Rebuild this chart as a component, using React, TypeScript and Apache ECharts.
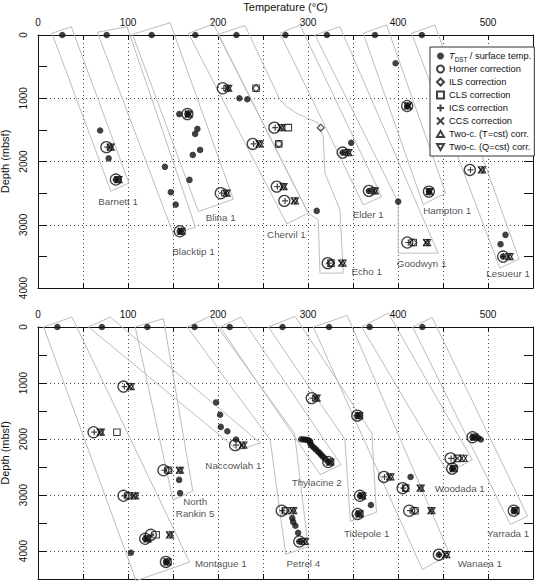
import React, { useEffect, useRef } from 'react';
import * as echarts from 'echarts';

const FONT = '"Liberation Sans", Arial, Helvetica, sans-serif';
const INK = '#111';

const TDST_NAME = 'TDST / surface temp.';
const LEGEND_NAMES = [
  TDST_NAME,
  'Horner correction',
  'ILS correction',
  'CLS correction',
  'ICS correction',
  'CCS correction',
  'Two-c. (T=cst) corr.',
  'Two-c. (Q=cst) corr.',
];

// ---------------- TOP PANEL ----------------
const topSurface = [27, 76.3, 126.3, 174.8, 220.5, 275, 321, 374.4, 426.5];
const topTdst = [
  [69, 1510], [78.5, 1950], [86.5, 2285],
  [141, 2084], [147.6, 2485], [153, 2681], [157.5, 3103],
  [157, 1250], [166, 1250], [177.1, 1485], [174.6, 1564], [180.1, 1817], [172, 1896], [168.3, 2291],
  [223.8, 1000], [232.6, 1016],
  [309.7, 2781],
  [348, 1705], [338.5, 1859], [367.7, 2465],
  [400.2, 2634],
  [397.3, 447], [410.2, 1122], [434.3, 2476],
  [519.4, 3160], [513.9, 3307], [516.8, 3503],
];
const topHorner = [
  [76, 1773], [86.5, 2285], [157.5, 3103], [166, 1250], [203.1, 2501], [205.3, 842],
  [262.6, 1465], [238.6, 1722], [265.3, 2397], [273.7, 2623], [321.9, 3607], [338.5, 1859],
  [367.7, 2465], [410.3, 3281], [410.2, 1122], [434.3, 2476], [479.8, 2133], [516.8, 3503],
];
const topIcs = [
  [77, 1773], [87, 2285], [158, 3103], [166.5, 1250], [204, 2501], [206.5, 842],
  [263.5, 1465], [239.5, 1722], [266, 2397], [274.5, 2623], [323, 3607], [339, 1859],
  [368, 2465], [411.5, 3281], [410.5, 1122], [434.5, 2476], [480.5, 2133], [517, 3503],
];
const topCcs = [
  [80.5, 1773], [89, 2285], [159, 3103], [167, 1250], [208.5, 2501], [210.9, 842],
  [270, 1465], [245.5, 1722], [272.5, 2397], [284.5, 2623], [337, 3607], [344.5, 1859],
  [373.5, 2465], [431.5, 3281], [411, 1122], [435, 2476], [492.5, 2133], [523, 3503],
];
const topTcT = [
  [81, 1773], [89.5, 2285], [159.5, 3103], [167.5, 1250], [209.8, 2501], [211.5, 842],
  [270.8, 1465], [246.5, 1722], [273, 2397], [285.6, 2623], [338.5, 3607], [345, 1859],
  [374.4, 2465], [432.4, 3281], [411, 1122], [435, 2476], [493.5, 2133], [524.2, 3503],
];
const topTcQ = [
  [81, 1773], [89.5, 2285], [159.5, 3103], [167.5, 1250], [209.8, 2501], [211.5, 842],
  [270.8, 1465], [246.5, 1722], [273, 2397], [285.6, 2623], [338.5, 3607], [345, 1859],
  [374.4, 2465], [432.4, 3281], [411, 1122], [435, 2476], [493.5, 2133], [524.2, 3503],
];
const topCls = [[242.3, 842], [278.1, 1465], [267.5, 1722], [325.5, 3607], [416.9, 3281]];
const topIls = [[242.3, 842], [314.1, 1465], [267.5, 1722], [325.5, 3607], [416.9, 3281]];
const topLabels = [
  ['Barnett 1', 89, 2634], ['Blacktip 1', 172.7, 3424], ['Blina 1', 203, 2886],
  ['Chervil 1', 276, 3149], ['Echo 1', 365.2, 3739], ['Elder 1', 366.9, 2833],
  ['Goodwyn 1', 426.2, 3607], ['Hampton 1', 454.6, 2776], ['Lesueur 1', 522.3, 3776],
];
const topBoxes = [
  [[15.5, -27], [37, -131], [101, 2340], [81, 2470]],
  [[66, -43], [99, -131], [175, 3040], [150.5, 3150]],
  [[105, -10], [146.8, -194], [217.1, 2596], [178.2, 2792]],
  [[167.1, -27], [194.9, -174], [300.3, 2817], [276.4, 2986]],
  [[200, -10], [230, -150], [268.9, 1027], [276.4, 1132], [287.5, 1238], [302.2, 1332], [311.4, 1395],
    [317, 1607], [317.8, 1870], [318.9, 2185], [335.5, 2765], [339.2, 3765], [313.3, 3765],
    [311.4, 2923], [300.3, 2817]],
  [[268.9, -27], [291.1, -158], [381.8, 2555], [361.4, 2686]],
  [[307.8, 0], [335.5, -131], [444.6, 3449], [400.2, 3449], [400.2, 2640]],
  [[361.4, -27], [387.3, -158], [453, 2500], [428, 2680]],
  [[415.1, -27], [441, -158], [534.5, 3544], [513.1, 3686]],
];

// ---------------- BOTTOM PANEL ----------------
const botSurface = [21.5, 71, 121.5, 174, 213, 271.7, 323.4, 368.5, 427];
const botTdst = [
  [156.8, 2730], [157.9, 2966],
  [119.1, 3782], [103.2, 4030], [142.1, 4195],
  [197.9, 1347], [202.3, 1566], [203.1, 1784], [210.4, 1862], [220.1, 2009],
  [282.5, 3410], [283.5, 3480], [286, 3550], [289, 3676], [290.3, 3830],
  [292.5, 2005], [295, 2008], [297.5, 2012], [300, 2020], [302, 2035], [302.5, 2060], [303, 2100],
  [305, 2130], [307, 2160], [309, 2190], [311.5, 2230], [313.5, 2260], [315, 2290], [317, 2320],
  [319.5, 2360], [322.5, 2411],
  [354.7, 1583], [357.7, 3014], [369.9, 3179], [355.2, 3339],
  [414, 2677], [445.4, 4066],
  [460.2, 2528],
  [482.8, 1968], [489, 1979], [492, 2009], [528.6, 3280],
];
const botHorner = [
  [95, 1064], [61.7, 1879], [139.4, 2558], [95, 3014], [125.4, 3711], [119.1, 3782], [142.1, 4195],
  [219, 2110], [270.8, 3280], [290.3, 3830], [304.1, 1270], [322.5, 2411], [354.7, 1583],
  [357.7, 3014], [355.2, 3339], [384.4, 2677], [405.1, 2878], [412.4, 3280], [445.4, 4066],
  [458.4, 2346], [460.2, 2528], [482.8, 1968], [528.6, 3280],
];
const botIcs = [
  [96, 1064], [62.5, 1879], [140.5, 2558], [96, 3014], [126, 3711], [119.5, 3782], [142.5, 4195],
  [220, 2110], [271.5, 3280], [290.5, 3830], [305, 1270], [323, 2411], [355, 1583],
  [358, 3014], [355.5, 3339], [385, 2677], [406, 2878], [413.5, 3280], [446, 4066],
  [459, 2346], [460.5, 2528], [483, 1968], [529, 3280],
];
const botCcs = [
  [102, 1064], [69.1, 1879], [157, 2558], [107, 3014], [146, 3711], [121, 3782], [143.5, 4195],
  [227, 2110], [283, 3280], [295, 3830], [309, 1270], [324.5, 2411], [356.5, 1583],
  [360, 3014], [357, 3339], [390.5, 2677], [424.5, 2878], [436.5, 3280], [452.5, 4066],
  [466, 2346], [461.5, 2528], [484.5, 1968], [530, 3280],
];
const botTcT = [
  [103.2, 1064], [70, 1879], [157.9, 2558], [108, 3014], [146.8, 3711], [122, 3782], [144, 4195],
  [228.2, 2110], [283.7, 3280], [296.6, 3830], [309.7, 1270], [325, 2411], [357, 1583],
  [360.5, 3014], [357.5, 3339], [391.8, 2677], [425.4, 2878], [437.3, 3280], [453.9, 4066],
  [473, 2346], [462, 2528], [485, 1968], [530.5, 3280],
];
const botTcQ = [
  [103.2, 1064], [70, 1879], [157.9, 2558], [108, 3014], [146.8, 3711], [122, 3782], [144, 4195],
  [228.2, 2110], [283.7, 3280], [296.6, 3830], [309.7, 1270], [325, 2411], [357, 1583],
  [360.5, 3014], [357.5, 3339], [391.8, 2677], [425.4, 2878], [437.3, 3280], [453.9, 4066],
  [473, 2346], [462, 2528], [485, 1968], [530.5, 3280],
];
const botCls = [[87.7, 1879], [145, 2558], [100.6, 3014], [131.3, 3711], [275, 3280], [408.5, 2878], [418.8, 3280], [466, 2346]];
const botIls = [[145, 2558], [100.6, 3014], [275, 3280], [408.5, 2878], [418.8, 3280]];
const botLabels = [
  ['Naccowlah 1', 217.1, 2482], ['North\nRankin 5', 174.6, 3232], ['Montague 1', 203.1, 4225],
  ['Thylacine 2', 309.7, 2777], ['Tidepole 1', 365.2, 3693], ['Woodada 1', 468.7, 2883],
  ['Yarrada 1', 522.3, 3693], ['Petrel 4', 294.8, 4225], ['Wanaea 1', 490.9, 4225],
];
const botBoxes = [
  [[6.2, 0], [37.7, -177], [168.4, 4200], [109, 4530]],
  [[56.2, 0], [80.2, -177], [247, 2070], [222, 2200]],
  [[108, 0], [139.4, -149], [172, 2930], [150, 3090]],
  [[165.8, 0], [190.8, -190], [285, 1900], [300.2, 3923], [275.2, 4059], [258, 2015]],
  [[202.3, 0], [225.3, -178], [336.7, 2459], [313.6, 2637]],
  [[256, 0], [285.6, -190], [371, 1900], [376, 3310], [347, 3470], [341, 2010]],
  [[305.9, 0], [343.6, -207], [457.6, 4065], [427, 4330]],
  [[359.6, 0], [389.1, -248], [482.5, 2370], [455.7, 2607]],
  [[416.2, 0], [438, -170], [544, 3378], [524.8, 3526]],
];

const X_MAX = 550;
const TOP_DEPTH_MAX = 4000;
const BOT_DEPTH_MAX = 4500;

const PLUS = 'path://M5,0L5,10M0,5L10,5';
const CROSS = 'path://M0,0L10,10M10,0L0,10';
const TRI_UP = 'path://M5,0L10,8.66L0,8.66Z';
const TRI_DOWN = 'path://M0,0L10,0L5,8.66Z';

function xAxes(gridIndex: number, withName: boolean) {
  const common = {
    type: 'value', gridIndex, min: 0, max: X_MAX, interval: 50,
    axisLine: { show: true, onZero: false, lineStyle: { color: INK, width: 1 } },
    axisTick: { show: true, inside: true, length: 5, lineStyle: { color: INK, width: 1 } },
  };
  return [
    {
      ...common, position: 'top',
      name: withName ? 'Temperature (°C)' : '',
      nameLocation: 'middle', nameGap: 23,
      nameTextStyle: { fontFamily: FONT, fontSize: 11, color: INK },
      axisLabel: {
        show: true, margin: 8, fontFamily: FONT, fontSize: 10, color: INK,
        formatter: (v: number) => (v % 100 === 0 && v <= 500 ? String(v) : ''),
      },
      splitLine: { show: true, lineStyle: { color: '#444', type: [1, 3], width: 1 } },
    },
    {
      ...common, position: 'bottom',
      axisLabel: { show: false },
      splitLine: { show: false },
    },
  ];
}

function yAxes(gridIndex: number, max: number) {
  const common = { type: 'value', gridIndex, min: 0, max, inverse: true };
  return [
    {
      ...common, position: 'left', interval: 500,
      name: 'Depth (mbsf)', nameLocation: 'middle', nameRotate: 90, nameGap: 24,
      nameTextStyle: { fontFamily: FONT, fontSize: 11, color: INK },
      axisLine: { show: true, onZero: false, lineStyle: { color: INK, width: 1 } },
      axisTick: { show: true, inside: true, length: 9, lineStyle: { color: INK, width: 1 } },
      axisLabel: {
        show: true, rotate: 90, margin: 10, fontFamily: FONT, fontSize: 10, color: INK,
        formatter: (v: number) => (v % 1000 === 0 && v <= 4000 ? String(v) : ''),
      },
      splitLine: { show: false },
    },
    {
      ...common, position: 'right', interval: 500,
      axisLine: { show: true, onZero: false, lineStyle: { color: INK, width: 1 } },
      axisTick: { show: true, inside: true, length: 9, lineStyle: { color: INK, width: 1 } },
      axisLabel: { show: false },
      splitLine: { show: false },
    },
    {
      ...common, position: 'left', interval: 1000,
      axisLine: { show: false }, axisTick: { show: false }, axisLabel: { show: false },
      splitLine: { show: true, lineStyle: { color: '#444', type: [1, 3], width: 1 } },
    },
  ];
}

function panelSeries(
  xi: number, yi: number,
  surface: number[], tdst: number[][], horner: number[][], ils: number[][], cls: number[][],
  ics: number[][], ccs: number[][], tct: number[][], tcq: number[][],
  boxes: number[][][], labels: (string | number)[][],
) {
  const out: any[] = [];
  boxes.forEach((b, i) => {
    out.push({
      type: 'line', name: 'box' + xi + '_' + i, xAxisIndex: xi, yAxisIndex: yi,
      data: [...b, b[0]], symbol: 'none', clip: false, silent: true, z: 1,
      lineStyle: { color: '#bdbdbd', width: 1 },
    });
  });
  const open = { color: 'rgba(0,0,0,0)', borderColor: INK, borderWidth: 1.1 };
  const stroke = { color: INK, borderColor: INK, borderWidth: 1.2 };
  const mk = (name: string, data: number[][], symbol: string, size: any, style: any, z: number) => ({
    type: 'scatter', name, xAxisIndex: xi, yAxisIndex: yi, data, symbol, symbolSize: size,
    itemStyle: style, z, clip: false, silent: true,
  });
  out.push(mk('Horner correction', horner, 'circle', 11, { ...open, borderWidth: 1.3 }, 3));
  out.push(mk('ILS correction', ils, 'diamond', 7, open, 3));
  out.push(mk('CLS correction', cls, 'rect', 6.5, open, 3));
  out.push(mk('ICS correction', ics, PLUS, 6, stroke, 4));
  out.push(mk('CCS correction', ccs, CROSS, 6.5, stroke, 4));
  out.push(mk('Two-c. (T=cst) corr.', tct, TRI_UP, [7, 6.2], open, 4));
  out.push(mk('Two-c. (Q=cst) corr.', tcq, TRI_DOWN, [7, 6.2], open, 4));
  out.push(mk(TDST_NAME, [...surface.map((x) => [x, 0]), ...tdst], 'circle', 6.5, { color: INK }, 5));
  out.push({
    type: 'scatter', name: 'labels' + xi, xAxisIndex: xi, yAxisIndex: yi,
    data: labels.map((l) => ({ name: l[0], value: [l[1], l[2]] })),
    symbolSize: 1, itemStyle: { color: 'rgba(0,0,0,0)' }, silent: true, z: 6,
    label: {
      show: true, position: 'inside', formatter: '{b}',
      fontFamily: FONT, fontSize: 9.8, color: '#222', lineHeight: 12,
    },
  });
  return out;
}

export default function App() {
  const ref = useRef<HTMLDivElement>(null);
  useEffect(() => {
    if (!ref.current) return;
    const chart = echarts.init(ref.current, null, { renderer: 'svg', width: 541, height: 585 });
    const option: any = {
      animation: false,
      backgroundColor: '#fff',
      grid: [
        { left: 38, top: 35, width: 495, height: 253, containLabel: false, outerBoundsMode: 'none' },
        { left: 38, top: 327, width: 495, height: 252, containLabel: false, outerBoundsMode: 'none' },
      ],
      xAxis: [...xAxes(0, true), ...xAxes(1, false)],
      yAxis: [...yAxes(0, TOP_DEPTH_MAX), ...yAxes(1, BOT_DEPTH_MAX)],
      legend: {
        data: LEGEND_NAMES,
        orient: 'vertical', left: 430, top: 47,
        backgroundColor: '#fff', borderColor: '#333', borderWidth: 1,
        padding: [3, 3, 3, 6], itemWidth: 7, itemHeight: 7, itemGap: 1, itemTextGap: 6,
        selectedMode: false,
        textStyle: {
          fontFamily: FONT, fontSize: 9.3, color: INK, lineHeight: 12,
          rich: {
            it: { fontFamily: FONT, fontSize: 9.3, fontStyle: 'italic', color: INK, lineHeight: 12 },
            sub: { fontFamily: FONT, fontSize: 6.3, color: INK, lineHeight: 12, verticalAlign: 'bottom' },
            n: { fontFamily: FONT, fontSize: 9.3, color: INK, lineHeight: 12 },
          },
        },
        formatter: (n: string) => (n === TDST_NAME ? '{it|T}{sub|DST}{n| / surface temp.}' : n),
      },
      series: [
        ...panelSeries(0, 0, topSurface, topTdst, topHorner, topIls, topCls, topIcs, topCcs, topTcT, topTcQ, topBoxes, topLabels),
        ...panelSeries(2, 3, botSurface, botTdst, botHorner, botIls, botCls, botIcs, botCcs, botTcT, botTcQ, botBoxes, botLabels),
      ],
    };
    chart.setOption(option);
    return () => chart.dispose();
  }, []);
  return (
    <div
      ref={ref}
      style={{ position: 'absolute', left: 0, top: 0, width: 541, height: 585, background: '#fff' }}
    />
  );
}
